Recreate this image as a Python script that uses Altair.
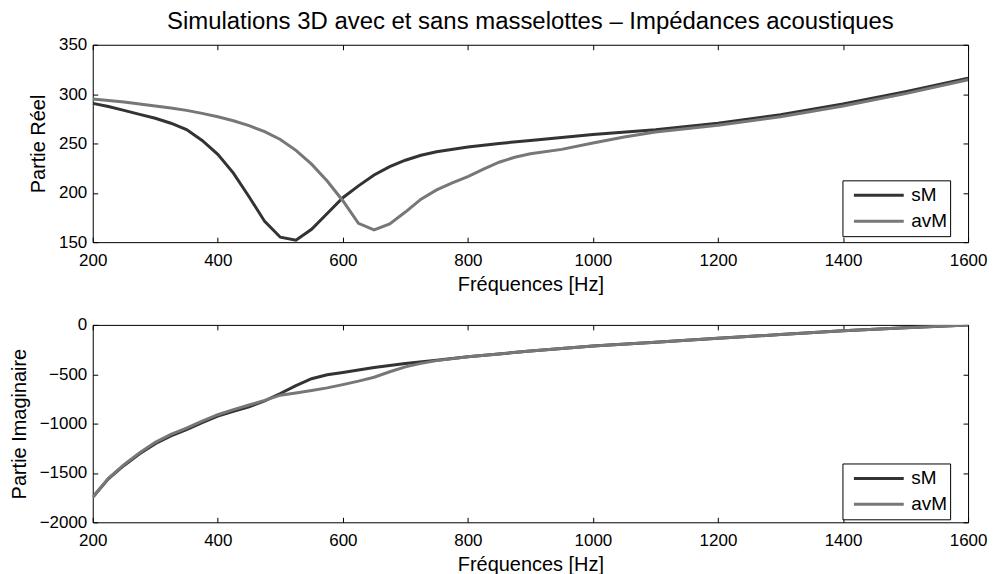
import altair as alt
import pandas as pd

# ---------------- data ----------------
SERIES = ["sM", "avM"]
COLORS = ["#333333", "#777777"]

re_freq_sM = [200, 225, 250, 275, 300, 325, 350, 375, 400, 425, 450, 475, 500, 525,
              550, 575, 600, 625, 650, 675, 700, 725, 750, 800, 850, 900, 950, 1000,
              1100, 1200, 1300, 1400, 1500, 1600]
re_sM = [290.6, 287.5, 283.5, 279.5, 275.5, 270.5, 264, 253, 239, 220, 196, 171, 155, 152,
         163, 179, 195, 207, 218, 226.5, 233, 238, 241.5, 246.5, 250, 253, 256, 259,
         264, 270.5, 279, 290, 302.5, 316]

re_freq_avM = [200, 225, 250, 275, 300, 325, 350, 375, 400, 425, 450, 475, 500, 525,
               550, 575, 600, 625, 650, 675, 700, 725, 750, 775, 800, 825, 850, 875,
               900, 950, 1000, 1050, 1100, 1200, 1300, 1400, 1500, 1600]
re_avM = [295, 293.5, 292, 290, 288, 286, 283.5, 280.5, 277, 273, 268, 262, 254, 243,
          229, 212, 192, 169, 162.5, 168.5, 180.5, 193.5, 203, 210, 216.5, 224, 231, 236,
          239.5, 244, 250.5, 256.5, 261.5, 268.5, 277, 288, 300.5, 314.5]

im_freq_sM = [200, 225, 250, 275, 300, 325, 350, 375, 400, 425, 450, 475, 500, 525,
              550, 575, 600, 650, 700, 750, 800, 900, 1000, 1100, 1200, 1300, 1400,
              1500, 1600]
im_sM = [-1746, -1559, -1424, -1305, -1203, -1125, -1061, -990, -925, -875, -831, -770,
         -695, -615, -545, -505, -482, -432, -392, -358, -322, -265, -214, -175, -136,
         -98, -60, -30, -2]

im_freq_avM = [200, 225, 250, 275, 300, 325, 350, 375, 400, 425, 450, 475, 500, 525,
               550, 575, 600, 625, 650, 675, 700, 725, 750, 800, 900, 1000, 1100, 1200,
               1300, 1400, 1500, 1600]
im_avM = [-1746, -1555, -1415, -1295, -1190, -1110, -1045, -975, -910, -858, -812, -765,
          -712, -690, -665, -638, -605, -570, -530, -475, -425, -390, -362, -322, -265,
          -214, -175, -136, -98, -60, -30, -2]

x_ticks = [200, 400, 600, 800, 1000, 1200, 1400, 1600]
re_ticks = [150, 200, 250, 300, 350]
im_ticks = [-2000, -1500, -1000, -500, 0]

TITLE = "Simulations 3D avec et sans masselottes \u2013 Imp\u00e9dances acoustiques"
X_TITLE = "Fr\u00e9quences [Hz]"

FONT = "Liberation Sans"

TEXT_STYLE = dict(labelFont=FONT, labelFontSize=17, labelColor="black",
                  titleFont=FONT, titleFontSize=20, titleFontWeight="normal",
                  titleColor="black")
TICK_STYLE = dict(offset=-5, tickSize=5, domain=False, grid=False,
                  tickColor="black", tickWidth=1)


def frame(freq_a, val_a, freq_b, val_b):
    rows = [{"freq": f, "val": v, "serie": "sM"} for f, v in zip(freq_a, val_a)]
    rows += [{"freq": f, "val": v, "serie": "avM"} for f, v in zip(freq_b, val_b)]
    return pd.DataFrame(rows)


def panel(df, ydomain, yticks, ytitle, legend_y, title=None):
    xscale = alt.Scale(domain=[200, 1600], nice=False, zero=False)
    yscale = alt.Scale(domain=ydomain, nice=False, zero=False)
    main = alt.Chart(df).mark_line(strokeWidth=3, clip=True).encode(
        x=alt.X("freq:Q", scale=xscale,
                axis=alt.Axis(values=x_ticks, orient="bottom", title=X_TITLE,
                              labelFlush=False, labelPadding=10, titlePadding=6,
                              format="d", **TICK_STYLE, **TEXT_STYLE)),
        y=alt.Y("val:Q", scale=yscale,
                axis=alt.Axis(values=yticks, orient="left", title=ytitle,
                              labelFlush=False, labelPadding=6, titlePadding=10,
                              format="d", **TICK_STYLE, **TEXT_STYLE)),
        color=alt.Color("serie:N",
                        scale=alt.Scale(domain=SERIES, range=COLORS),
                        legend=alt.Legend(
                            title=None, orient="none", legendX=752, legendY=legend_y,
                            direction="vertical",
                            symbolType="stroke", symbolStrokeWidth=3,
                            symbolSize=2500, symbolOffset=7,
                            clipHeight=24, rowPadding=2, padding=3,
                            labelFontSize=19, labelFont=FONT, labelColor="black",
                            labelOffset=6,
                            strokeColor="black", fillColor="white",
                            cornerRadius=0)),
        detail="serie:N",
    )
    mirror = alt.Chart(df).mark_line(opacity=0).encode(
        x=alt.X("freq:Q", scale=xscale,
                axis=alt.Axis(values=x_ticks, orient="top", title=None,
                              labels=False, **TICK_STYLE)),
        y=alt.Y("val:Q", scale=yscale,
                axis=alt.Axis(values=yticks, orient="right", title=None,
                              labels=False, **TICK_STYLE)),
        detail="serie:N",
    )
    props = dict(width=878, height=198)
    if title is not None:
        props["title"] = alt.TitleParams(text=title, fontSize=24, font=FONT,
                                         fontWeight="normal", color="black",
                                         anchor="middle", offset=2)
    return alt.layer(main, mirror).resolve_axis(x="independent", y="independent").properties(**props)


top = panel(frame(re_freq_sM, re_sM, re_freq_avM, re_avM), [150, 350], re_ticks,
            "Partie R\u00e9el", 136, title=TITLE)
bottom = panel(frame(im_freq_sM, im_sM, im_freq_avM, im_avM), [-2000, 0], im_ticks,
               "Partie Imaginaire", 139)

chart = alt.vconcat(top, bottom, spacing=20).resolve_scale(
    color="independent"
).configure(
    background="white", padding=0
).configure_view(
    stroke="black", strokeWidth=1
)

chart.save("out.html", embed_options={"renderer": "svg", "actions": False})
